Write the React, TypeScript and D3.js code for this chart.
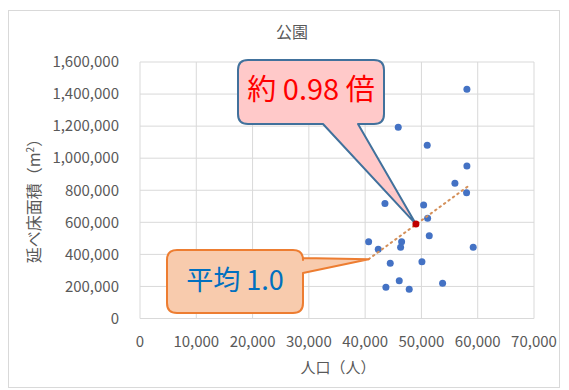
import * as d3 from "d3";
import React from "react";

// 人口（人）
const population = [
  58080, 45880, 51030, 58080, 55950, 58020, 43520, 50390, 51100, 51390, 40620,
  46480, 46300, 42330, 59200, 44460, 50090, 46060, 53760, 43690, 47830,
];
// 延べ床面積（m²）
const floorArea = [
  1430000, 1193000, 1080000, 951000, 843000, 785000, 718000, 708000, 625000,
  516000, 479000, 479000, 444000, 432000, 444000, 344000, 354000, 236000,
  220000, 195000, 182000,
];
const meanPoint = [49020, 589000];
const trendPop = [40620, 58600];
const trendArea = [370000, 833000];

const xTicks = [0, 10000, 20000, 30000, 40000, 50000, 60000, 70000];
const yTicks = [0, 200000, 400000, 600000, 800000, 1000000, 1200000, 1400000, 1600000];

const font = "'Noto Sans CJK JP', 'Noto Sans', sans-serif";
const grey = "#595959";

export default function App() {
  const width = 569;
  const height = 390;

  const x = d3.scaleLinear().domain([0, 70000]).range([140, 534]);
  const y = d3.scaleLinear().domain([0, 1600000]).range([318.5, 62]);
  const fmt = d3.format(",");

  const trend = d3
    .line<number>()
    .x((d, i) => x(trendPop[i]))
    .y((d) => y(d))(trendArea);

  // pink callout pointing at the mean
  const tip1 = [x(meanPoint[0]), y(meanPoint[1])];
  const b1 = { x0: 238, y0: 60, x1: 384, y1: 124, r: 10 };
  const pink = `M${b1.x0 + b1.r},${b1.y0} H${b1.x1 - b1.r} Q${b1.x1},${b1.y0} ${b1.x1},${b1.y0 + b1.r}
    V${b1.y1 - b1.r} Q${b1.x1},${b1.y1} ${b1.x1 - b1.r},${b1.y1} H358 L${tip1[0]},${tip1[1]} L323,${b1.y1}
    H${b1.x0 + b1.r} Q${b1.x0},${b1.y1} ${b1.x0},${b1.y1 - b1.r} V${b1.y0 + b1.r} Q${b1.x0},${b1.y0} ${b1.x0 + b1.r},${b1.y0} Z`;

  // orange callout pointing at the start of the trend line
  const tip2 = [x(trendPop[0]), y(trendArea[0])];
  const b2 = { x0: 167, y0: 250, x1: 303, y1: 313, r: 10 };
  const orange = `M${b2.x0 + b2.r},${b2.y0} H${b2.x1 - b2.r} Q${b2.x1},${b2.y0} ${b2.x1},${b2.y0 + b2.r}
    V258 L${tip2[0]},${tip2[1]} L${b2.x1},273 V${b2.y1 - b2.r} Q${b2.x1},${b2.y1} ${b2.x1 - b2.r},${b2.y1}
    H${b2.x0 + b2.r} Q${b2.x0},${b2.y1} ${b2.x0},${b2.y1 - b2.r} V${b2.y0 + b2.r} Q${b2.x0},${b2.y0} ${b2.x0 + b2.r},${b2.y0} Z`;

  return (
    <svg
      width={width}
      height={height}
      style={{ position: "absolute", left: 0, top: 0, background: "#fff" }}
      fontFamily={font}
    >
      <rect x={8.5} y={10.5} width={551} height={377} fill="#fff" stroke="#d9d9d9" />
      <text x={292} y={38} textAnchor="middle" fontSize={16} fill={grey}>
        公園
      </text>

      {/* grid */}
      {yTicks.map((t) => (
        <line key={"h" + t} x1={x(0)} x2={x(70000)} y1={y(t)} y2={y(t)} stroke="#d9d9d9" />
      ))}
      {xTicks.map((t) => (
        <line key={"v" + t} x1={x(t)} x2={x(t)} y1={y(0)} y2={y(1600000)} stroke="#d9d9d9" />
      ))}

      {/* tick labels */}
      {yTicks.map((t) => (
        <text key={"yl" + t} x={119} y={y(t)} dy="0.35em" textAnchor="end" fontSize={15} fill={grey}>
          {fmt(t)}
        </text>
      ))}
      {xTicks.map((t) => (
        <text key={"xl" + t} x={x(t)} y={342} dy="0.35em" textAnchor="middle" fontSize={15} fill={grey}>
          {fmt(t)}
        </text>
      ))}

      <text x={338} y={373} textAnchor="middle" fontSize={15} fill={grey}>
        人口（人）
      </text>
      <text
        transform={`translate(40, 197) rotate(-90)`}
        textAnchor="middle"
        fontSize={16}
        fill={grey}
      >
        延べ床面積（m<tspan fontSize={10} dy={-6}>2</tspan>
        <tspan dy={6}>）</tspan>
      </text>

      {/* points */}
      {population.map((p, i) => (
        <circle key={i} cx={x(p)} cy={y(floorArea[i])} r={3.5} fill="#4472c4" />
      ))}

      <path
        d={trend || ""}
        fill="none"
        stroke="#d4905a"
        strokeWidth={2}
        strokeDasharray="1.5 4"
        strokeLinecap="round"
      />

      <path d={orange} fill="#f8cbad" stroke="#ed7d31" strokeWidth={2} strokeLinejoin="round" />
      <text x={235} y={281} dy="0.35em" textAnchor="middle" fontSize={27} fill="#0070c0">
        平均 1.0
      </text>

      <path d={pink} fill="#ffc9c9" stroke="#41719c" strokeWidth={2} strokeLinejoin="round" />
      <text x={311} y={90} dy="0.35em" textAnchor="middle" fontSize={29} fill="#ff0000">
        約 0.98 倍
      </text>

      <circle cx={tip1[0]} cy={tip1[1]} r={3.5} fill="#c00000" />
    </svg>
  );
}
